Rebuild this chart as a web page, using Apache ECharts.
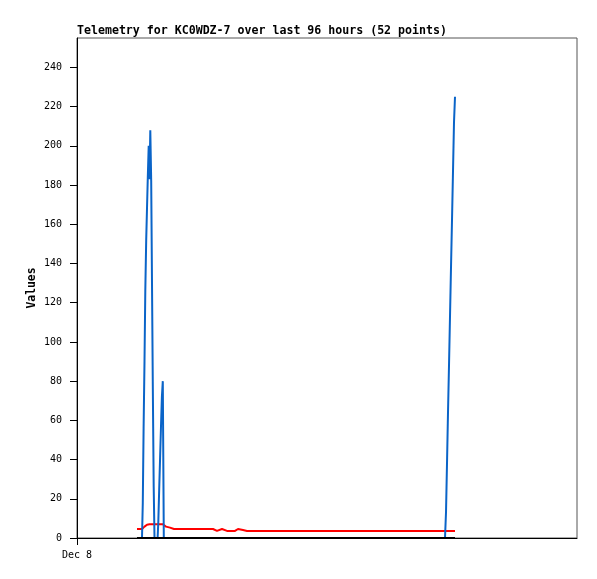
<!DOCTYPE html>
<html>
<head>
<meta charset="utf-8">
<title>Telemetry for KC0WDZ-7</title>
<script src="https://cdn.jsdelivr.net/npm/echarts@6/dist/echarts.min.js"></script>
<style>
  html, body { margin: 0; padding: 0; background: #fff; }
  #telemetryChart { width: 597px; height: 579px; }
</style>
</head>
<body>
<div id="telemetryChart"></div>
<script>
// minutes after Dec 8 00:00, one entry per packet (52 points)
const times = [
  120, 130, 131.6, 133.2, 135, 136.6, 138.4, 140, 141.6, 143.4, 145, 146.6, 148.4, 150, 151.6, 153.4, 155,
  161.2, 162.6, 164.4, 166.2, 168, 169.8, 171.6, 173.6,
  178, 186, 194, 236, 272, 280, 290, 300, 316, 322, 332, 340, 446, 566, 626, 686,
  736, 738, 740, 742, 744, 746, 748, 750, 752, 754, 756
];
// channel values
const channelBlue = [
  0, 0, 18, 56, 90, 126, 152, 168, 184, 200, 183, 208, 182, 130, 78, 26, 0,
  0, 8, 25, 41, 57, 72, 80, 0,
  0, 0, 0, 0, 0, 0, 0, 0, 0, 0, 0, 0, 0, 0, 0, 0,
  0, 13, 38, 64, 88, 113, 138, 162, 187, 212, 225
];
const channelRed = [
  4.6, 4.6, 5.0, 5.4, 5.8, 6.2, 6.5, 6.8, 7, 7, 7, 7, 7, 7, 7, 7, 7,
  7, 7, 7, 7, 7, 7, 7, 6.8,
  5.8, 5.3, 4.6, 4.6, 4.6, 3.6, 4.6, 3.6, 3.6, 4.6, 4.1, 3.6, 3.6, 3.6, 3.6, 3.6,
  3.6, 3.6, 3.6, 3.6, 3.6, 3.6, 3.6, 3.6, 3.6, 3.6, 3.6
];
const channelBlack = [
  0, 0, 0, 0, 0, 0, 0, 0, 0, 0, 0, 0, 0, 0, 0, 0, 0,
  0, 0, 0, 0, 0, 0, 0, 0,
  0, 0, 0, 0, 0, 0, 0, 0, 0, 0, 0, 0, 0, 0, 0, 0,
  0, 0, 0, 0, 0, 0, 0, 0, 0, 0, 0
];
const yTicks = [0, 20, 40, 60, 80, 100, 120, 140, 160, 180, 200, 220, 240];
const xTicks = [0];
const xTickLabels = ["Dec 8"];

const MONO = "DejaVu Sans Mono";

const pairs = (vals) => times.map((t, i) => [t, vals[i]]);

const myChart = echarts.init(document.getElementById("telemetryChart"), null, { renderer: "canvas" });

const option = {
  animation: false,
  backgroundColor: "#fff",
  title: {
    text: "Telemetry for KC0WDZ-7 over last 96 hours (52 points)",
    left: 77,
    top: 25,
    padding: 0,
    textStyle: { fontFamily: MONO, fontWeight: "bold", fontSize: 11.6, color: "#000" }
  },
  grid: {
    left: 77,
    right: 20,
    top: 38,
    bottom: 41,
    containLabel: false,
    outerBoundsMode: "none",
    show: true,
    borderColor: "#555",
    borderWidth: 1,
    backgroundColor: "#fff"
  },
  xAxis: {
    type: "value",
    min: 0,
    max: 1000,
    axisLine: { lineStyle: { color: "#000", width: 1 } },
    axisTick: { customValues: xTicks, length: 7, lineStyle: { color: "#000" } },
    axisLabel: {
      customValues: xTicks,
      formatter: (v) => xTickLabels[xTicks.indexOf(v)] || "",
      margin: 12,
      fontFamily: MONO,
      fontSize: 10,
      color: "#000"
    },
    splitLine: { show: false }
  },
  yAxis: {
    type: "value",
    min: 0,
    max: 255,
    name: "Values",
    nameLocation: "middle",
    nameRotate: 90,
    nameGap: 39,
    nameMoveOverlap: false,
    nameTextStyle: { fontFamily: MONO, fontWeight: "bold", fontSize: 11.4, color: "#000" },
    axisLine: { show: true, lineStyle: { color: "#000", width: 1 } },
    axisTick: { show: true, customValues: yTicks, length: 7, lineStyle: { color: "#000" } },
    axisLabel: {
      customValues: yTicks,
      margin: 15,
      fontFamily: MONO,
      fontSize: 10,
      color: "#000"
    },
    splitLine: { show: false }
  },
  series: [
    {
      name: "red",
      type: "line",
      data: pairs(channelRed),
      showSymbol: false,
      z: 2,
      lineStyle: { color: "#ff0000", width: 2 },
      itemStyle: { color: "#ff0000" }
    },
    {
      name: "blue",
      type: "line",
      data: pairs(channelBlue),
      showSymbol: false,
      z: 3,
      lineStyle: { color: "#0a64c8", width: 2 },
      itemStyle: { color: "#0a64c8" }
    },
    {
      name: "black",
      type: "line",
      data: pairs(channelBlack),
      showSymbol: false,
      z: 4,
      lineStyle: { color: "#000", width: 2 },
      itemStyle: { color: "#000" }
    }
  ]
};

myChart.setOption(option);
</script>
</body>
</html>
